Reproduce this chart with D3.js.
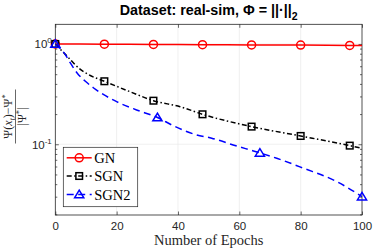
<!DOCTYPE html>
<html><head><meta charset="utf-8">
<script src="https://cdn.jsdelivr.net/npm/d3@7"></script>
<style>html,body{margin:0;padding:0;background:#fff;}svg{display:block;}</style>
</head><body>
<svg id="c" width="374" height="249"></svg>
<script>
// ---- data ----
const xTicks = [0, 20, 40, 60, 80, 100];
const yMajorTicks = [1, 0.1];
const yMajorLabels = ["0", "-1"];
const seriesNames = ["GN", "SGN", "SGN2"];

const gnEpochs = [0, 16, 32, 48, 64, 80, 96, 100];
const gnValues = [1.0, 0.995, 0.99, 0.985, 0.98, 0.975, 0.968, 0.966];
const gnMarkerEpochs = [0, 16, 32, 48, 64, 80, 96];

const sgnEpochs = [0, 4.4, 7.6, 10.9, 16, 24.4, 32, 40.7, 48, 64, 80, 96, 100];
const sgnValues = [1.0, 0.725, 0.576, 0.494, 0.425, 0.334, 0.272, 0.237, 0.199, 0.150, 0.121, 0.0969, 0.0912];
const sgnMarkerEpochs = [0, 16, 32, 48, 64, 80, 96];

const sgn2Epochs = [0, 3.3, 4.9, 7.1, 9.8, 12.5, 15.8, 20, 26.5, 33.3, 38.5, 46.1, 51, 58, 63.5, 66.7, 72.2, 80.9, 91.8, 100];
const sgn2Values = [1.0, 0.782, 0.647, 0.514, 0.425, 0.364, 0.312, 0.266, 0.22, 0.185, 0.153, 0.124, 0.115, 0.0985, 0.0877, 0.082, 0.0725, 0.0577, 0.0424, 0.030];
const sgn2MarkerEpochs = [0, 33.3, 66.7, 100];

// ---- layout ----
const L = 55.3, R = 362, T = 24.3, B = 215;
const axisCol = "#262626";
const svg = d3.select("#c");
const x = d3.scaleLinear().domain([0, 100]).range([L, R]);
const y = d3.scaleLog().domain([0.0197, 1.572]).range([B, T]);

// grid
const grid = svg.append("g").attr("stroke", "#e6e6e6").attr("stroke-width", 0.6);
xTicks.slice(1, -1).forEach(t => grid.append("line").attr("x1", x(t)).attr("x2", x(t)).attr("y1", T).attr("y2", B));
yMajorTicks.forEach(t => grid.append("line").attr("x1", L).attr("x2", R).attr("y1", y(t)).attr("y2", y(t)));

// axes via d3 axis generators (inward ticks)
const tickFont = "Liberation Sans, Arial, sans-serif";
const xAxisB = d3.axisBottom(x).tickValues(xTicks).tickSize(-3.5).tickPadding(7).tickFormat(d3.format("d"));
const gxb = svg.append("g").attr("transform", `translate(0,${B})`).call(xAxisB);
gxb.select(".domain").remove();
gxb.selectAll("line").attr("stroke", axisCol).attr("stroke-width", 0.7);
gxb.selectAll("text").attr("fill", axisCol).attr("font-family", tickFont).attr("font-size", 11.5).attr("dy", "0.71em");
const xAxisT = d3.axisTop(x).tickValues(xTicks).tickSize(-3.5).tickFormat("");
const gxt = svg.append("g").attr("transform", `translate(0,${T})`).call(xAxisT);
gxt.select(".domain").remove();
gxt.selectAll("line").attr("stroke", axisCol).attr("stroke-width", 0.7);

const minorTicks = [];
[0.01, 0.1, 1].forEach(dec => { for (let k = 2; k <= 9; k++) { const v = dec * k; if (v >= 0.0197 && v <= 1.572) minorTicks.push(v); } });
const yAxisLMaj = d3.axisLeft(y).tickValues(yMajorTicks).tickSize(-3.5).tickFormat("");
const yAxisLMin = d3.axisLeft(y).tickValues(minorTicks).tickSize(-2).tickFormat("");
const yAxisRMaj = d3.axisRight(y).tickValues(yMajorTicks).tickSize(-3.5).tickFormat("");
const yAxisRMin = d3.axisRight(y).tickValues(minorTicks).tickSize(-2).tickFormat("");
[[yAxisLMaj, L], [yAxisLMin, L], [yAxisRMaj, R], [yAxisRMin, R]].forEach(([ax, px]) => {
  const g = svg.append("g").attr("transform", `translate(${px},0)`).call(ax);
  g.select(".domain").remove();
  g.selectAll("line").attr("stroke", axisCol).attr("stroke-width", 0.7);
});
// y tick labels 10^n
yMajorTicks.forEach((t, i) => {
  const tx = svg.append("text").attr("x", L - 3.5).attr("y", y(t) + 4.5).attr("text-anchor", "end")
    .attr("fill", axisCol).attr("font-family", tickFont).attr("font-size", 11.5);
  tx.append("tspan").text("10");
  tx.append("tspan").attr("dy", -5).attr("font-size", 8).text(yMajorLabels[i]);
});

// box
svg.append("rect").attr("x", L).attr("y", T).attr("width", R - L).attr("height", B - T)
  .attr("fill", "none").attr("stroke", axisCol).attr("stroke-width", 0.8);

// ---- series ----
const clip = svg.append("clipPath").attr("id", "clp").append("rect").attr("x", L).attr("y", T).attr("width", R - L).attr("height", B - T);
const line = d3.line().x(d => x(d[0])).y(d => y(d[1])).curve(d3.curveMonotoneX);
function interpAt(ep, vals, e) {
  const i = ep.indexOf(e);
  if (i >= 0) return vals[i];
  for (let k = 1; k < ep.length; k++) if (e <= ep[k]) {
    const t = (e - ep[k - 1]) / (ep[k] - ep[k - 1]);
    return Math.exp(Math.log(vals[k - 1]) * (1 - t) + Math.log(vals[k]) * t);
  }
  return vals[vals.length - 1];
}
const series = [
  { name: seriesNames[0], ep: gnEpochs, val: gnValues, mk: gnMarkerEpochs, color: "#ff0000", dash: null, marker: "circle" },
  { name: seriesNames[1], ep: sgnEpochs, val: sgnValues, mk: sgnMarkerEpochs, color: "#000000", dash: "5,2.5,1.5,2.5", marker: "square" },
  { name: seriesNames[2], ep: sgn2Epochs, val: sgn2Values, mk: sgn2MarkerEpochs, color: "#0000ff", dash: "7,4.5", marker: "triangle" }
];
function drawMarker(g, type, cx, cy, color) {
  if (type === "circle") g.append("circle").attr("cx", cx).attr("cy", cy).attr("r", 4).attr("fill", "none").attr("stroke", color).attr("stroke-width", 1.5);
  else if (type === "square") g.append("rect").attr("x", cx - 3.3).attr("y", cy - 3.3).attr("width", 6.6).attr("height", 6.6).attr("fill", "none").attr("stroke", color).attr("stroke-width", 1.5);
  else g.append("path").attr("d", `M${cx},${cy - 4.3}L${cx + 4.6},${cy + 3.3}L${cx - 4.6},${cy + 3.3}Z`).attr("fill", "none").attr("stroke", color).attr("stroke-width", 1.5);
}
const plotG = svg.append("g").attr("clip-path", "url(#clp)");
series.forEach(s => {
  const pts = s.ep.map((e, i) => [e, s.val[i]]);
  plotG.append("path").attr("d", line(pts)).attr("fill", "none").attr("stroke", s.color)
    .attr("stroke-width", 1.5).attr("stroke-dasharray", s.dash);
});
series.forEach(s => {
  s.mk.forEach(e => drawMarker(svg, s.marker, x(e), y(interpAt(s.ep, s.val, e)), s.color));
});

// ---- legend ----
const lg = svg.append("g");
lg.append("rect").attr("x", 63.3).attr("y", 147.3).attr("width", 74.4).attr("height", 59.4)
  .attr("fill", "#fff").attr("stroke", axisCol).attr("stroke-width", 0.7);
const legY = [157.8, 176, 194.5];
series.forEach((s, i) => {
  lg.append("line").attr("x1", 66.7).attr("x2", 91.7).attr("y1", legY[i]).attr("y2", legY[i])
    .attr("stroke", s.color).attr("stroke-width", 1.5).attr("stroke-dasharray", s.dash);
  drawMarker(lg, s.marker, 79.2, legY[i], s.color);
  lg.append("text").attr("x", 94.3).attr("y", legY[i] + 5).attr("font-family", "Liberation Serif, Times New Roman, serif")
    .attr("font-size", 14.5).attr("fill", "#000").text(s.name);
});

// ---- labels ----
svg.append("text").attr("x", 208.7).attr("y", 245).attr("text-anchor", "middle")
  .attr("font-family", "Liberation Serif, Times New Roman, serif").attr("font-size", 14.5).attr("fill", axisCol)
  .text("Number of Epochs");

const title = svg.append("text").attr("x", 208.7).attr("y", 15).attr("text-anchor", "middle")
  .attr("font-family", "Liberation Sans, Arial, sans-serif").attr("font-weight", "bold").attr("font-size", 14.3).attr("fill", "#000");
title.append("tspan").text("Dataset: real-sim, Φ = ||·||");
title.append("tspan").attr("dy", 5).attr("font-size", 10.5).text("2");

// y label: fraction
const yl = svg.append("g").attr("transform", "translate(15.5,116.5) rotate(-90)");
const serif = "Liberation Serif, Times New Roman, serif";
const num = yl.append("text").attr("x", 0).attr("y", -3.2).attr("text-anchor", "middle").attr("font-family", serif).attr("font-size", 12).attr("fill", axisCol);
num.append("tspan").text("Ψ(");
num.append("tspan").attr("font-style", "italic").text("x");
num.append("tspan").attr("font-style", "italic").attr("font-size", 8.5).attr("dy", 2.5).text("t");
num.append("tspan").attr("dy", -2.5).text(")−Ψ");
num.append("tspan").attr("font-size", 8.5).attr("dy", -4.5).text("*");
yl.append("line").attr("x1", -27).attr("x2", 27).attr("y1", 0).attr("y2", 0).attr("stroke", axisCol).attr("stroke-width", 0.7);
const den = yl.append("text").attr("x", 0).attr("y", 10.5).attr("text-anchor", "middle").attr("font-family", serif).attr("font-size", 12).attr("fill", axisCol);
den.append("tspan").text("|Ψ");
den.append("tspan").attr("font-size", 8.5).attr("dy", -4.5).text("*");
den.append("tspan").attr("dy", 4.5).text("|");
</script>
</body></html>
